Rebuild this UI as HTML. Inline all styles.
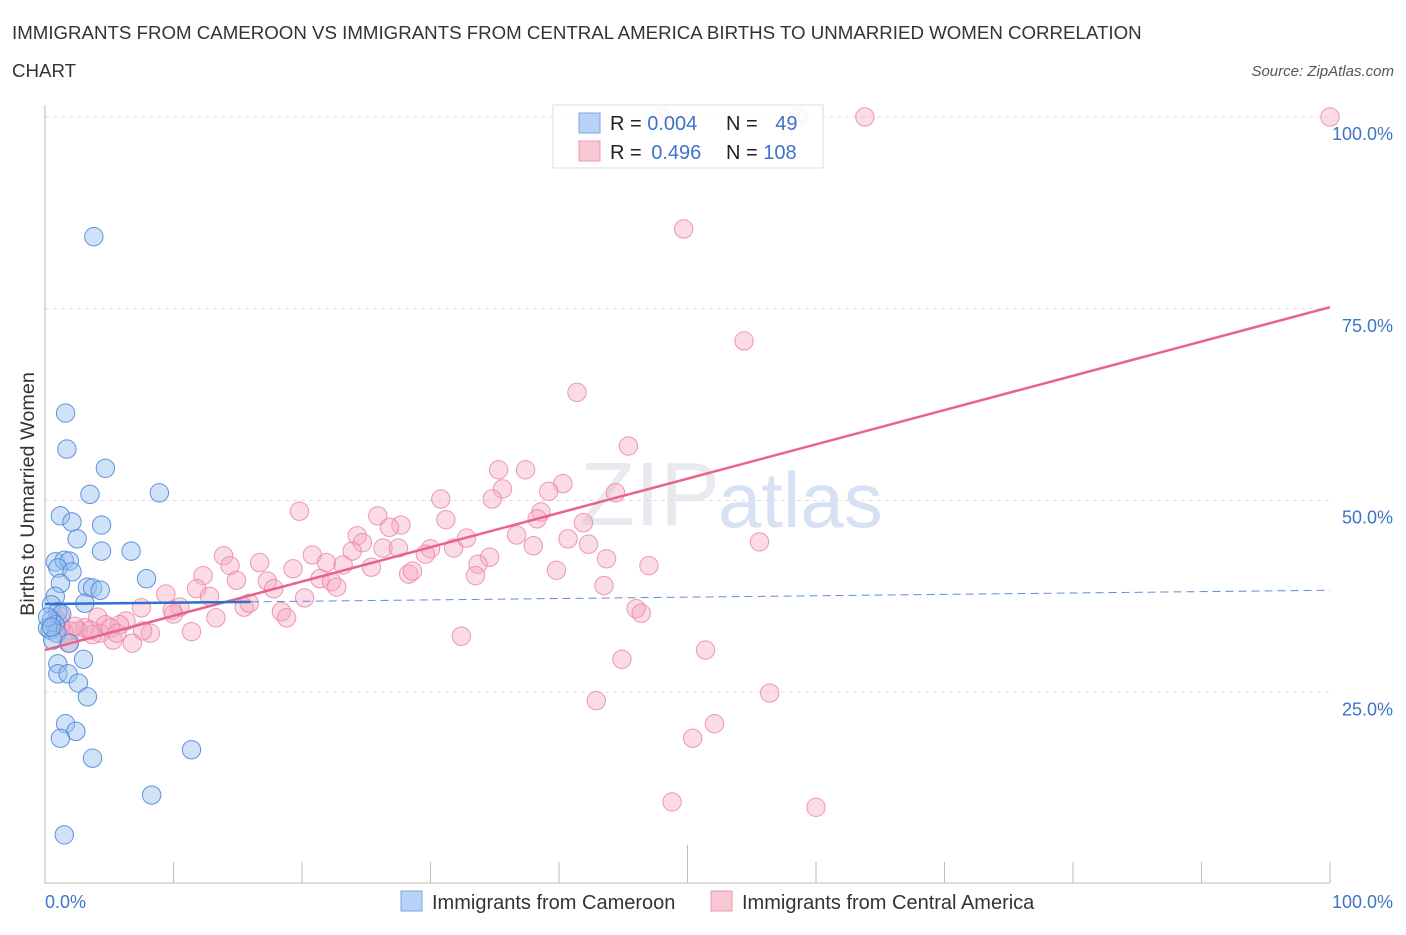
<!DOCTYPE html>
<html><head><meta charset="utf-8"><style>
body{margin:0;background:#fff;font-family:"Liberation Sans",sans-serif;}
svg text{font-family:"Liberation Sans",sans-serif;}
</style></head><body>
<svg id="chart" width="1406" height="930" viewBox="0 0 1406 930">
<text x="12" y="39" font-size="18.7" fill="#333">IMMIGRANTS FROM CAMEROON VS IMMIGRANTS FROM CENTRAL AMERICA BIRTHS TO UNMARRIED WOMEN CORRELATION</text>
<text x="12" y="77" font-size="18.7" fill="#333">CHART</text>
<text x="1394" y="76" font-size="15" font-style="italic" fill="#555" text-anchor="end">Source: ZipAtlas.com</text>
<text x="720" y="525" font-size="90" fill="#d8dde6" text-anchor="end" font-family="Liberation Serif" opacity="0.6">ZIP</text>
<text x="718" y="527" font-size="78" fill="#bcd0ec" opacity="0.6">atlas</text>
<g id="grid"></g>
<g id="axes"></g>
<g id="pts"></g>
<g id="lines"></g>
<text transform="translate(34,494) rotate(-90)" font-size="19.8" fill="#333" text-anchor="middle">Births to Unmarried Women</text>
<text x="45" y="908" font-size="18" fill="#3d74c9">0.0%</text>
<text x="1393" y="908" font-size="18" fill="#3d74c9" text-anchor="end">100.0%</text>
<g>
<rect x="553" y="105" width="270" height="63" fill="rgba(255,255,255,0.85)" stroke="#ddd"/>
<rect x="579" y="113" width="21" height="20" fill="#b8d3f5" stroke="#7aa6e3"/>
<rect x="579" y="141" width="21" height="20" fill="#f9c8d5" stroke="#eb99b0"/>
<text x="610" y="130" font-size="20" fill="#222">R = <tspan fill="#3d74c9">0.004</tspan></text>
<text x="726" y="130" font-size="20" fill="#222">N = <tspan fill="#3d74c9" dx="12">49</tspan></text>
<text x="610" y="159" font-size="20" fill="#222">R = <tspan fill="#3d74c9" dx="4">0.496</tspan></text>
<text x="726" y="159" font-size="20" fill="#222">N = <tspan fill="#3d74c9">108</tspan></text>
</g>
<g>
<rect x="401" y="891" width="21" height="20" fill="#b8d3f5" stroke="#7aa6e3"/>
<text x="432" y="909" font-size="20" fill="#333">Immigrants from Cameroon</text>
<rect x="711" y="891" width="21" height="20" fill="#f9c8d5" stroke="#eb99b0"/>
<text x="742" y="909" font-size="20" fill="#333">Immigrants from Central America</text>
</g>
</svg>
<script>
const yTicks=[25,50,75,100];
const yTickLabels=["25.0%","50.0%","75.0%","100.0%"];
const xTicks=[0,10,20,30,40,50,60,70,80,90,100];
const blueX=[3.8,1.6,1.7,4.7,3.5,8.9,1.2,2.1,4.4,2.5,4.4,6.7,0.8,1.5,1.9,1.0,2.1,1.2,7.9,3.3,3.7,4.3,0.8,3.1,0.5,1.0,1.3,0.5,0.8,0.4,0.9,0.2,0.6,1.9,3.0,1.0,1.0,1.8,2.6,3.3,1.6,2.4,1.2,3.7,11.4,8.3,1.5,0.2,0.5];
const blueY=[84.4,61.4,56.7,54.2,50.8,51.0,48.0,47.2,46.8,45.0,43.4,43.4,42.0,42.2,42.1,41.2,40.7,39.2,39.8,38.7,38.6,38.3,37.5,36.6,36.4,35.5,35.2,34.4,33.8,33.1,32.7,33.4,31.8,31.4,29.3,28.7,27.4,27.4,26.2,24.4,20.9,19.9,19.0,16.4,17.5,11.6,6.4,34.8,33.5];
const pinkX=[48.0,58.6,63.8,100,49.7,54.4,41.4,45.4,35.3,37.4,35.6,40.3,30.8,39.2,44.4,34.8,19.8,25.9,31.2,38.6,38.3,41.9,27.7,26.8,24.3,36.7,24.7,40.7,26.3,27.5,30.0,31.8,32.8,38.0,42.3,55.6,23.9,29.6,13.9,34.6,20.8,16.7,21.9,23.2,25.4,19.3,33.7,47.0,43.7,14.4,39.8,28.3,12.3,28.6,33.5,21.4,14.9,22.3,17.3,22.7,17.8,11.8,43.5,9.4,12.8,20.2,7.5,10.5,10.0,15.5,15.9,18.4,46.0,46.4,9.9,13.3,18.8,4.1,6.3,5.8,4.7,1.2,3.1,2.0,2.6,4.3,3.7,5.1,8.2,1.5,11.4,7.6,5.3,6.8,32.4,1.8,51.4,44.9,56.4,42.9,52.1,50.4,48.8,60.0,3.5,2.3,5.6,0.9,1.2];
const pinkY=[100,100,100,100,85.4,70.8,64.1,57.1,54.0,54.0,51.5,52.2,50.2,51.2,51.0,50.2,48.6,48.0,47.5,48.5,47.6,47.1,46.8,46.5,45.4,45.5,44.5,45.0,43.8,43.8,43.7,43.8,45.1,44.1,44.3,44.6,43.4,43.0,42.8,42.6,42.9,41.9,41.9,41.6,41.3,41.1,41.7,41.5,42.4,41.5,40.9,40.4,40.2,40.8,40.2,39.8,39.6,39.4,39.5,38.7,38.5,38.5,38.9,37.8,37.5,37.3,36.0,36.1,35.2,36.1,36.6,35.5,35.9,35.3,35.7,34.7,34.7,34.8,34.3,33.8,33.8,34.9,33.4,33.0,33.0,32.7,32.5,33.4,32.7,32.7,32.9,33.0,31.8,31.4,32.3,31.4,30.5,29.3,24.9,23.9,20.9,19.0,10.7,10.0,33.1,33.6,32.7,34.4,33.8];
const blueTrend=[36.5,38.3];
const pinkTrend=[30.5,75.2];
const NS="http://www.w3.org/2000/svg";
const X0=45,X1=1330,Y0=884,Y100=117;
function sx(v){return X0+(X1-X0)*v/100;}
function sy(v){return Y0-(Y0-Y100)*v/100;}
function mk(tag,attrs,parent){const e=document.createElementNS(NS,tag);for(const k in attrs)e.setAttribute(k,attrs[k]);parent.appendChild(e);return e;}
const grid=document.getElementById('grid'),axes=document.getElementById('axes'),pts=document.getElementById('pts'),lines=document.getElementById('lines');
yTicks.forEach((t,i)=>{
 const l=mk('line',{x1:X0,x2:X1,y1:sy(t),y2:sy(t),stroke:'#ddd','stroke-dasharray':'4,4'},grid);
 
 
 const tx=mk('text',{x:1393,y:sy(t)+23,'font-size':18,fill:'#3d74c9','text-anchor':'end'},grid);
 tx.textContent=yTickLabels[i];
 
 
});
const ya=mk('line',{x1:X0,x2:X0,y1:105,y2:884,stroke:'#bbb'},axes);


const xa=mk('line',{x1:X0,x2:X1,y1:883,y2:883,stroke:'#bbb'},axes);


xTicks.forEach(t=>{
 const l=mk('line',{x1:sx(t),x2:sx(t),y1:(t===50?845:862),y2:883,stroke:'#bbb'},axes);
 
 
});
function dots(xs,ys,fill,stroke,name){
 xs.forEach((v,i)=>{
  const c=mk('circle',{cx:sx(v),cy:sy(ys[i]),r:9.2,fill:fill,stroke:stroke,'stroke-width':1},pts);
  
  
 });
}
dots(pinkX,pinkY,'rgba(246,170,192,0.42)','rgba(233,130,160,0.8)','point-central-america');
dots(blueX,blueY,'rgba(150,190,240,0.45)','rgba(70,130,215,0.85)','point-cameroon');
const pl=mk('line',{x1:sx(0),y1:sy(pinkTrend[0]),x2:sx(100),y2:sy(pinkTrend[1]),stroke:'#e8628d','stroke-width':2.5},lines);


const bs=blueTrend[0]+(blueTrend[1]-blueTrend[0])*0.16;
const bl=mk('line',{x1:sx(0),y1:sy(blueTrend[0]),x2:sx(16),y2:sy(bs),stroke:'#2f6fd0','stroke-width':2.5},lines);


const bd=mk('line',{x1:sx(16),y1:sy(bs),x2:sx(100),y2:sy(blueTrend[1]),stroke:'#5b8fd8','stroke-width':1,'stroke-dasharray':'8,5'},lines);


</script>
</body></html>
